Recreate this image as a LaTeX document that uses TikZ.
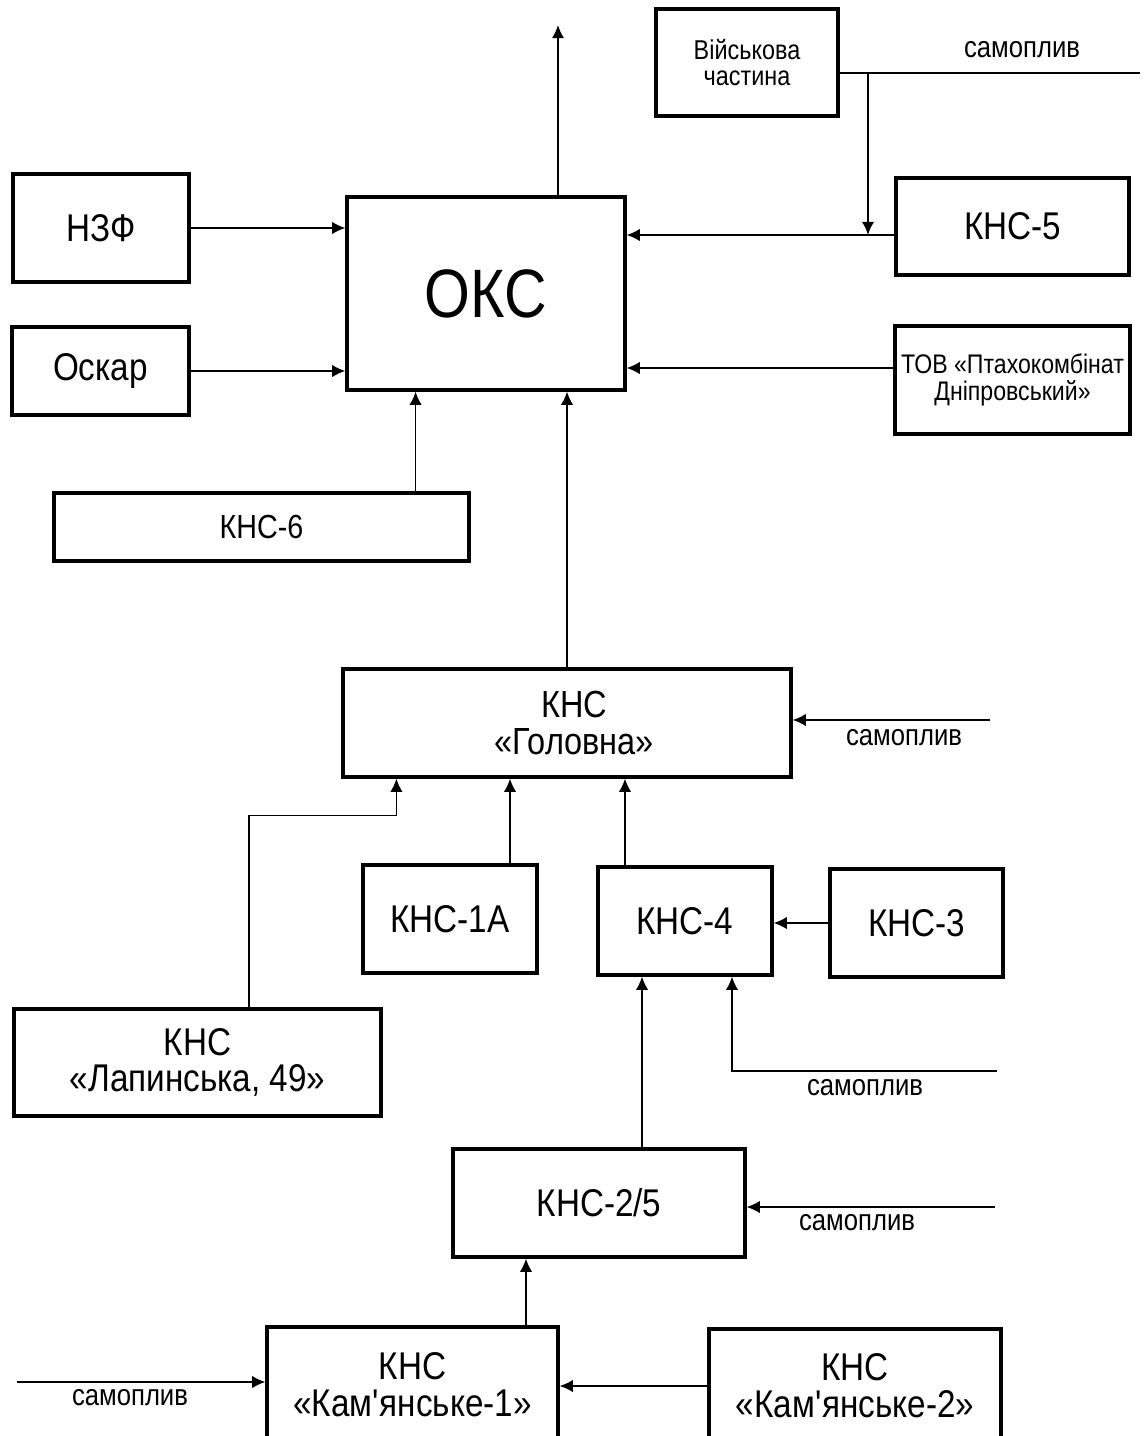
\documentclass[tikz,border=0pt]{standalone}
\usepackage{fontspec}
\setmainfont{Liberation Sans}[FakeStretch=0.86]
\usetikzlibrary{arrows.meta,calc}

\tikzset{
  box/.style={draw, line width=1.8pt, inner sep=0pt, align=center,
    font=\fontsize{22}{21}\selectfont},
  sz/.style 2 args={minimum width=#1*0.02cm, minimum height=#2*0.02cm},
  lbl/.style={inner sep=0pt, font=\fontsize{17}{16}\selectfont},
  flow/.style={line width=1pt, -{Latex[length=7.5pt,width=7pt]}}
}

\begin{document}
\begin{tikzpicture}[x=0.02cm, y=-0.02cm]
        \useasboundingbox (0,0) rectangle (1144,1436);

        % stations
        \node[box, sz={182}{107}, font=\fontsize{15.5}{15}\selectfont] (vch) at (747,62.5) {Військова\\частина};
        \node[box, sz={278}{193}, font=\fontsize{39}{39}\selectfont] (oks) at (486,293.5) {ОКС};
        \node[box, sz={176}{108}] (nzf) at (101,228) {НЗФ};
        \node[box, sz={177}{88}] (oskar) at (100.5,371) {Оскар};
        \node[box, sz={233}{97}] (kns5) at (1012.5,226.5) {КНС-5};
        \node[box, sz={235}{108}, font=\fontsize{15.3}{15}\selectfont] (tov) at (1012.5,380) {ТОВ «Птахокомбінат\\Дніпровський»};
        \node[box, sz={415}{68}, font=\fontsize{19}{19}\selectfont] (kns6) at (261.5,527) {КНС-6};
        \node[box, sz={448}{108}, font=\fontsize{21.5}{21}\selectfont] (golovna) at (567,723) {\hspace*{8pt}КНС\\\hspace*{8pt}«Головна»};
        \node[box, sz={367}{107}] (lap) at (197.5,1062.5) {КНС\\«Лапинська, 49»};
        \node[box, sz={174}{108}] (k1a) at (450,919) {КНС-1А};
        \node[box, sz={174}{108}] (k4) at (685,921) {КНС-4};
        \node[box, sz={173}{108}] (k3) at (916.5,923) {КНС-3};
        \node[box, sz={292}{108}] (k25) at (599,1203) {КНС-2/5};
        \node[box, sz={291}{116}] (kam1) at (412.5,1385) {КНС\\«Кам\textquotesingle янське-1»};
        \node[box, sz={292}{114}] (kam2) at (855,1386) {КНС\\«Кам\textquotesingle янське-2»};

        % free ends
        \coordinate (out) at (558,25);
        \coordinate (s1) at (1140,73);
        \coordinate (j1) at (868,73);
        \coordinate (s2) at (990,720);
        \coordinate (s3) at (997,1071);
        \coordinate (s4) at (995,1207);
        \coordinate (s5) at (17,1382);
        \coordinate (k5in) at ($(kns5.west)+(0,8.5)$);
        \coordinate (tovin) at ($(tov.west)+(0,-12)$);
        \coordinate (lapbend) at ($(golovna.south west)+(55,37)$);

        % labels
        \node[lbl] (l1) at (1022,50) {самоплив};
        \node[lbl] (l2) at (904,738) {самоплив};
        \node[lbl] (l3) at (865,1088) {самоплив};
        \node[lbl] (l4) at (857,1223) {самоплив};
        \node[lbl] (l5) at (130,1398) {самоплив};

        % flows
        \draw[flow] (oks.north -| out) -- (out);
        \draw[line width=1pt] (vch.east |- s1) -- (s1);
        \draw[flow] (j1) -- (j1 |- k5in);
        \draw[flow] (k5in) -- (k5in -| oks.east);
        \draw[flow] (tovin) -- (tovin -| oks.east);
        \draw[flow] (nzf.east) -- (nzf.east -| oks.west);
        \draw[flow] (oskar.east) -- (oskar.east -| oks.west);
        \draw[flow] ($(kns6.north east)+(-55,0)$) coordinate (a6) -- (a6 |- oks.south);
        \draw[flow] (golovna.north) -- (golovna.north |- oks.south);
        \draw[flow] (s2) -- (s2 -| golovna.east);
        \draw[flow] ($(lap.north)+(51.5,0)$) |- (lapbend) -- (lapbend |- golovna.south);
        \draw[flow] ($(k1a.north)+(60,0)$) coordinate (a1) -- (a1 |- golovna.south);
        \draw[flow] ($(k4.north)+(-60,0)$) coordinate (a4) -- (a4 |- golovna.south);
        \draw[flow] (k3.west) -- (k3.west -| k4.east);
        \draw[flow] ($(k25.north)+(43,0)$) coordinate (a25) -- (a25 |- k4.south);
        \draw[flow] (s3) -| ($(k4.south)+(47,0)$);
        \draw[flow] (s4) -- (s4 -| k25.east);
        \draw[flow] ($(kam1.north)+(113.5,0)$) coordinate (am) -- (am |- k25.south);
        \draw[flow] (kam2.west) -- (kam2.west -| kam1.east);
        \draw[flow] (s5) -- (s5 -| kam1.west);
    \end{tikzpicture}
\end{document}
